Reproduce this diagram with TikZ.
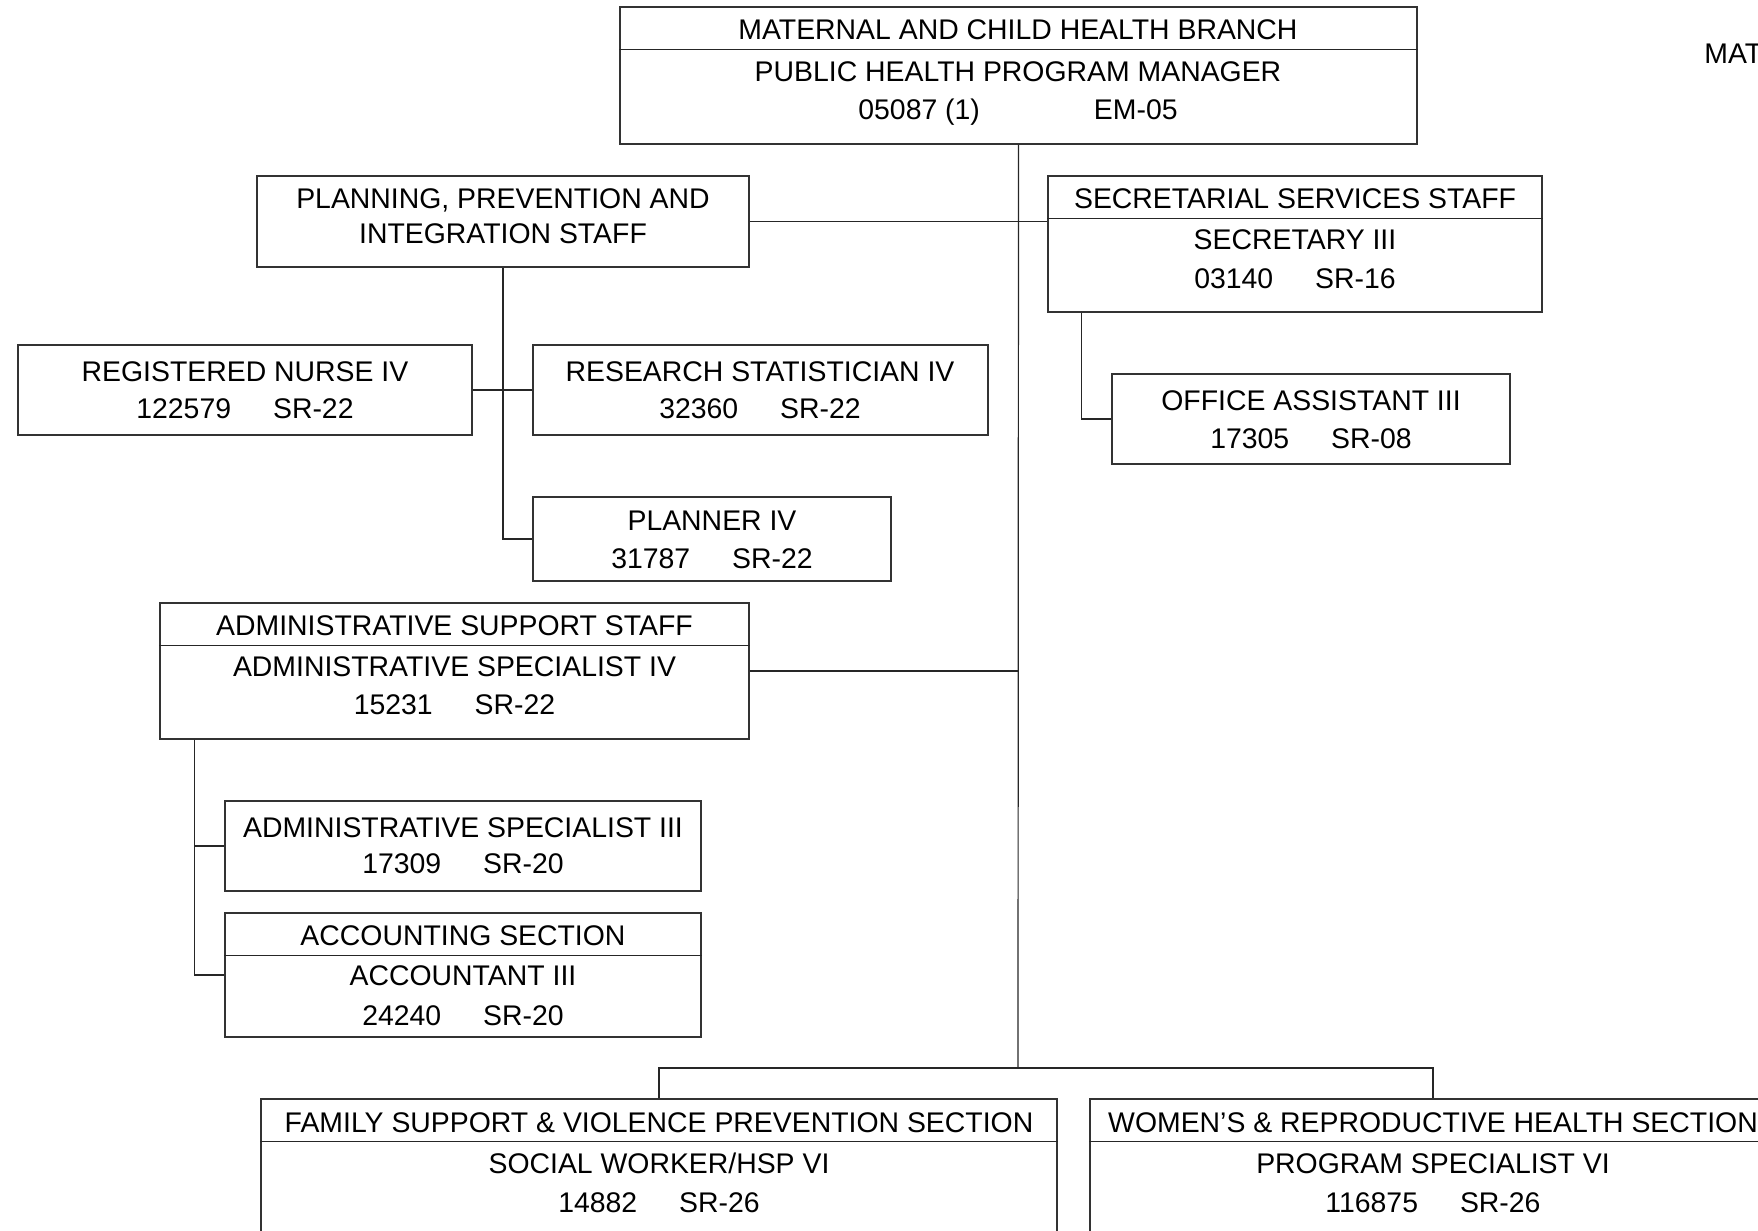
\documentclass[tikz,border=0pt]{standalone}
\usepackage{fontspec}
\setmainfont{Liberation Sans}
\usetikzlibrary{fit}
\newcommand{\gap}{\hspace{21pt}}

\begin{document}
\begin{tikzpicture}[x=0.5pt,y=-0.5pt]
\tikzstyle{every node}+=[inner sep=0pt, text height=10.2pt, text depth=0pt, font=\fontsize{14.2}{17}\selectfont]
\tikzstyle{box}=[draw=black!80, line width=0.7pt, inner sep=0pt]
\tikzstyle{link}=[draw=black!85, line width=0.6pt]
\useasboundingbox (0,0) rectangle (1758,1231);
\clip (0,0) rectangle (1758,1231);
% boxes
\node [box, fit={(620,7) (1417,144)}] (mch) {};
\node [box, fit={(257,176) (749,267)}] (ppi) {};
\node [box, fit={(1048,176) (1542,312)}] (sss) {};
\node [box, fit={(18,345) (472,435)}] (rn) {};
\node [box, fit={(533,345) (988,435)}] (rs) {};
\node [box, fit={(533,497) (891,581)}] (pln) {};
\node [box, fit={(1112,374) (1510,464)}] (oa) {};
\node [box, fit={(160,603) (749,739)}] (ass) {};
\node [box, fit={(225,801) (701,891)}] (as3) {};
\node [box, fit={(225,913) (701,1037)}] (acc) {};
\node [box, fit={(261,1099) (1057,1270)}] (fsv) {};
\node [box, fit={(1090,1099) (1776,1270)}] (wrh) {};
\foreach \b in {mch,sss,ass,acc,fsv,wrh}
  \draw [link] ([yshift=-21.5pt]\b.north west) -- ([yshift=-21.5pt]\b.north east);
% texts
\node (mch1) at (1018,29) {MATERNAL AND CHILD HEALTH BRANCH};
\node (mch2) at (1018,71) {PUBLIC HEALTH PROGRAM MANAGER};
\node (mch3) at (1018,109) {05087 (1)\hspace{57pt}EM-05};
\node [anchor=west] (mat) at (1704,53) {MAT};
\node (ppi1) at (503,198) {PLANNING, PREVENTION AND};
\node (ppi2) at (503,233) {INTEGRATION STAFF};
\node (sss1) at (1295,198) {SECRETARIAL SERVICES STAFF};
\node (sss2) at (1295,239) {SECRETARY III};
\node (sss3) at (1295,278) {03140\gap SR-16};
\node (rn1) at (245,371) {REGISTERED NURSE IV};
\node (rn2) at (245,408) {122579\gap SR-22};
\node (rs1) at (760,371) {RESEARCH STATISTICIAN IV};
\node (rs2) at (760,408) {32360\gap SR-22};
\node (pln1) at (712,520) {PLANNER IV};
\node (pln2) at (712,558) {31787\gap SR-22};
\node (oa1) at (1311,400) {OFFICE ASSISTANT III};
\node (oa2) at (1311,438) {17305\gap SR-08};
\node (ass1) at (454.5,625) {ADMINISTRATIVE SUPPORT STAFF};
\node (ass2) at (454.5,666) {ADMINISTRATIVE SPECIALIST IV};
\node (ass3) at (454.5,704) {15231\gap SR-22};
\node (as31) at (463,827) {ADMINISTRATIVE SPECIALIST III};
\node (as32) at (463,863) {17309\gap SR-20};
\node (acc1) at (463,935) {ACCOUNTING SECTION};
\node (acc2) at (463,975) {ACCOUNTANT III};
\node (acc3) at (463,1015) {24240\gap SR-20};
\node (fsv1) at (659,1122) {FAMILY SUPPORT \& VIOLENCE PREVENTION SECTION};
\node (fsv2) at (659,1163) {SOCIAL WORKER/HSP VI};
\node (fsv3) at (659,1202) {14882\gap SR-26};
\node (wrh1) at (1433,1122) {WOMEN\char"27 S \& REPRODUCTIVE HEALTH SECTION};
\node (wrh2) at (1433,1163) {PROGRAM SPECIALIST VI};
\node (wrh3) at (1433,1202) {116875\gap SR-26};
% connectors
\coordinate (bus) at (1018,1068);
\draw [link] (mch.south) -- (bus);
\draw [link] (fsv.north) |- (bus) -| (wrh.north);
\draw [link] (ppi.east) -- (ppi.east -| sss.west);
\draw [link] (ass.east) -- (ass.east -| mch.south);
\draw [link] (rn.east) -- (rs.west);
\draw [link] (ppi.south) |- (pln.west);
\draw [link] ([xshift=17pt]sss.south west) |- (oa.west);
\draw [link] ([xshift=17.5pt]ass.south west) |- (as3.west);
\draw [link] ([xshift=17.5pt]ass.south west) |- (acc.west);
\end{tikzpicture}
\end{document}
